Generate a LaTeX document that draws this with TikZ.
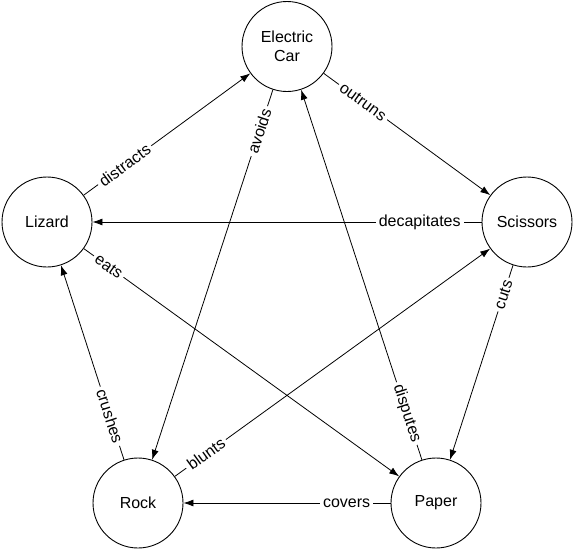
\documentclass[tikz,border=0pt]{standalone}
\usepackage{fontspec}
\setmainfont{Liberation Sans}
\usetikzlibrary{arrows.meta}
\begin{document}
\begin{tikzpicture}[x=1pt,y=-1pt,
  state/.style={circle,draw,line width=0.9pt,minimum size=90pt,inner sep=0pt,
    font=\fontsize{16}{19}\selectfont,align=center},
  rel/.style={-{Latex[length=10pt,width=7pt]},line width=0.8pt},
  lbl/.style={sloped,fill=white,inner sep=3pt,font=\fontsize{16}{19}\selectfont}]
\useasboundingbox (0,0) rectangle (573,549);
\node[state] (car) at (287,46.5) {Electric\\Car};
\node[state] (liz) at (47,222) {Lizard};
\node[state] (sci) at (527,222) {Scissors};
\node[state] (rock) at (138,503) {Rock};
\node[state] (pap) at (436,503) {Paper};
\draw[rel] (liz) -- node[lbl,pos=0.246] {distracts} (car);
\draw[rel] (car) -- node[lbl,pos=0.236] {outruns} (sci);
\draw[rel] (car) -- node[lbl,pos=0.112] {avoids} (rock);
\draw[rel] (pap) -- node[lbl,pos=0.125] {disputes} (car);
\draw[rel] (sci) -- node[lbl,pos=0.159] {decapitates} (liz);
\draw[rel] (liz) -- node[lbl,pos=0.079] {eats} (pap);
\draw[rel] (rock) -- node[lbl,pos=0.099] {blunts} (sci);
\draw[rel] (sci) -- node[lbl,pos=0.151] {cuts} (pap);
\draw[rel] (pap) -- node[lbl,pos=0.212] {covers} (rock);
\draw[rel] (rock) -- node[lbl,pos=0.224] {crushes} (liz);
\end{tikzpicture}
\end{document}
